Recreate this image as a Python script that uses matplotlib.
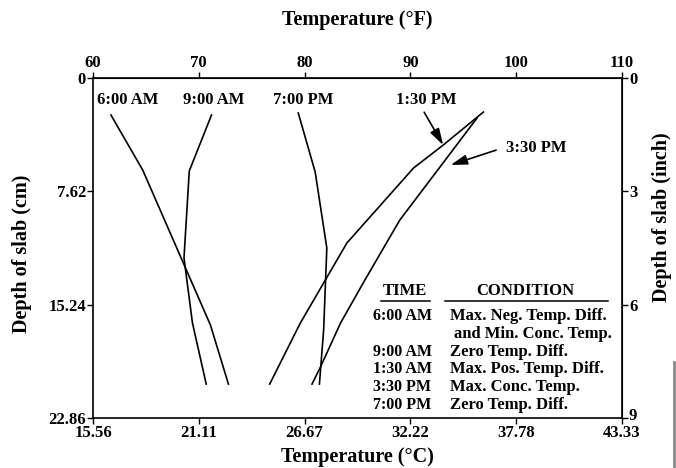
import numpy as np
import matplotlib.pyplot as plt
import matplotlib.transforms as mtransforms
from matplotlib.lines import Line2D

# Temperature profiles through the slab (deg F vs depth in cm)
am6_temp = [61.7, 64.7, 71.1, 72.8]
am6_depth = [2.49, 6.19, 16.61, 20.58]

am9_temp = [71.2, 69.1, 68.6, 69.4, 70.7]
am9_depth = [2.49, 6.25, 12.10, 16.47, 20.58]

pm7_temp = [79.4, 81.0, 82.1, 81.8, 81.4]
pm7_depth = [2.35, 6.32, 11.43, 16.94, 20.58]

pm130_temp = [96.9, 93.1, 90.3, 84.0, 79.6, 76.7]
pm130_depth = [2.29, 4.51, 6.05, 11.09, 16.47, 20.58]

pm330_temp = [96.3, 92.8, 89.0, 85.7, 83.4, 81.5, 80.7]
pm330_depth = [2.69, 5.98, 9.55, 13.58, 16.47, 19.43, 20.58]

f_ticks = [60, 70, 80, 90, 100, 110]
c_labels = ["15.56", "21.11", "26.67", "32.22", "37.78", "43.33"]
cm_ticks = [0, 7.62, 15.24, 22.86]
cm_labels = ["0", "7.62", "15.24", "22.86"]
inch_ticks = [0, 3, 6, 9]

table_times = ["6:00 AM", "", "9:00 AM", "1:30 AM", "3:30 PM", "7:00 PM"]
table_conds = ["Max. Neg. Temp. Diff.", "and Min. Conc. Temp.", "Zero Temp. Diff.",
               "Max. Pos. Temp. Diff.", "Max. Conc. Temp.", "Zero Temp. Diff."]

plt.rcParams['font.family'] = ['Liberation Serif', 'DejaVu Serif']
plt.rcParams['font.weight'] = 'bold'

W, H = 676, 468
fig = plt.figure(figsize=(W / 100, H / 100), dpi=100)
ax = fig.add_axes([93 / W, 50 / H, 529 / W, 340 / H])

for t, d in [(am6_temp, am6_depth), (am9_temp, am9_depth), (pm7_temp, pm7_depth),
             (pm130_temp, pm130_depth), (pm330_temp, pm330_depth)]:
    ax.plot(t, d, color='black', lw=1.2)

ax.set_xlim(60, 110)
ax.set_ylim(22.86, 0)

# bottom axis: Celsius labels
ax.set_xticks(f_ticks)
ax.set_xticklabels(c_labels, fontsize=12, fontweight='bold')
ax.set_yticks(cm_ticks)
ax.set_yticklabels(cm_labels, fontsize=12, fontweight='bold')
ax.tick_params(direction='out', length=4, width=1, pad=1)

# top axis: Fahrenheit
top = ax.secondary_xaxis('top')
top.set_xticks(f_ticks)
top.set_xticklabels([str(v) for v in f_ticks], fontsize=12, fontweight='bold')
top.tick_params(direction='out', length=4, width=1, pad=1)

# right axis: inches
right = ax.secondary_yaxis('right', functions=(lambda c: c / 2.54, lambda i: i * 2.54))
right.set_yticks(inch_ticks)
right.set_yticklabels([str(v) for v in inch_ticks], fontsize=12, fontweight='bold')
right.tick_params(direction='out', length=4, width=1, pad=1)
# nudge the bottom "9" up a little so it clears 43.33
last = right.get_yticklabels()[-1]
last.set_transform(last.get_transform() + mtransforms.ScaledTranslation(0, 4 / 100, fig.dpi_scale_trans))

for s in ax.spines.values():
    s.set_linewidth(1.2)

# axis titles
lbl = dict(fontsize=14.5, fontweight='bold', ha='center', va='center')
fig.text(357 / W, 1 - 20 / H, "Temperature (°F)", **lbl)
fig.text(357 / W, 1 - 457 / H, "Temperature (°C)", **lbl)
fig.text(22 / W, 1 - 254 / H, "Depth of slab (cm)", rotation=90, **lbl)
fig.text(662 / W, 1 - 217 / H, "Depth of slab (inch)", rotation=90, **lbl)

# curve labels
lab_kw = dict(fontsize=12, fontweight='bold', ha='center', va='center')
ax.text(63.3, 1.5, "6:00 AM", **lab_kw)
ax.text(71.4, 1.5, "9:00 AM", **lab_kw)
ax.text(79.9, 1.5, "7:00 PM", **lab_kw)
ax.text(91.5, 1.5, "1:30 PM", **lab_kw)
ax.text(101.9, 4.7, "3:30 PM", **lab_kw)

arr = dict(arrowstyle='-|>,head_length=1.0,head_width=0.3', color='black', lw=1.2,
           shrinkA=0, shrinkB=0)
ax.annotate("", xy=(93.1, 4.51), xytext=(91.3, 2.3), arrowprops=arr)
ax.annotate("", xy=(93.8, 5.85), xytext=(98.1, 4.85), arrowprops=arr)

# condition table
tx0, cx0 = 373 / W, 450 / W
fig.text(405 / W, 1 - 291 / H, "TIME", fontsize=12, fontweight='bold', ha='center', va='center')
fig.text(525 / W, 1 - 291 / H, "CONDITION", fontsize=12, fontweight='bold', ha='center', va='center')
fig.add_artist(Line2D([381 / W, 430 / W], [1 - 301 / H] * 2, color='black', lw=1.1))
fig.add_artist(Line2D([445 / W, 608 / W], [1 - 301 / H] * 2, color='black', lw=1.1))
for i, (tm, cd) in enumerate(zip(table_times, table_conds)):
    y = 1 - (316 + i * 17.8) / H
    if tm:
        fig.text(tx0, y, tm, fontsize=11.5, fontweight='bold', ha='left', va='center')
    fig.text(cx0 if tm else cx0 + 4 / W, y, cd, fontsize=12, fontweight='bold', ha='left', va='center')

# scan edge on the right
fig.add_artist(Line2D([674 / W] * 2, [0, 1 - 362 / H], color='#888888', lw=2))

fig.savefig("out.png", dpi=100)
